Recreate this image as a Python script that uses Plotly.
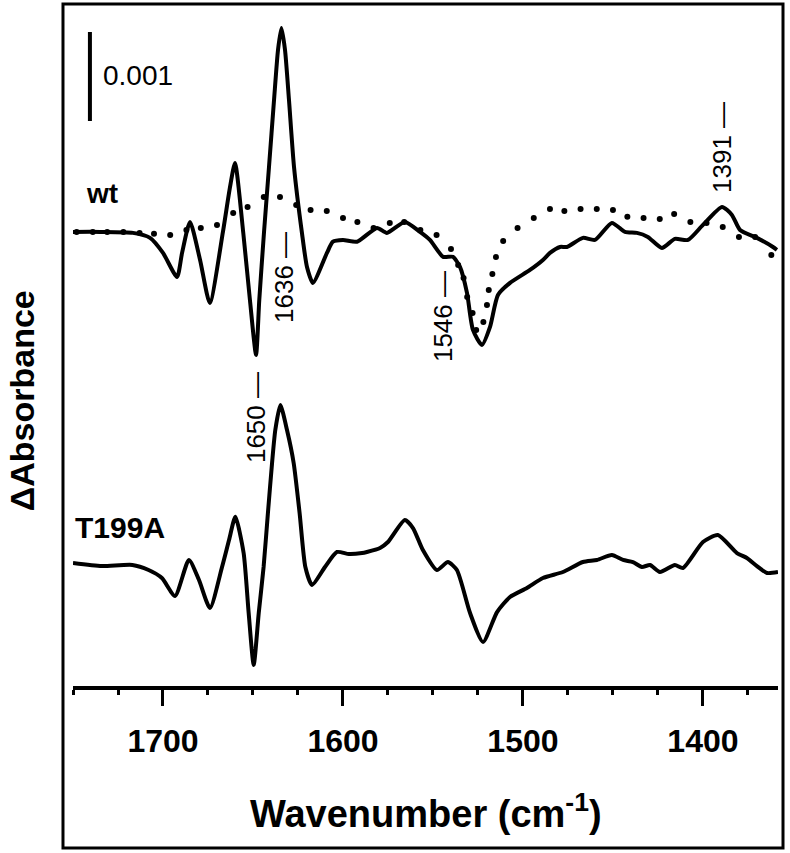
import plotly.graph_objects as go

# ---------------- data (ΔA in units of 10^-3) ----------------
wt_wn = [1750, 1735, 1716.7, 1707.2, 1700, 1692.2, 1689.4, 1685, 1679.4, 1674, 1666.7,
         1662.8, 1660, 1655.4, 1651.7, 1648.3, 1646.5, 1643.9, 1641.1, 1638.3, 1636.1,
         1634.2, 1632.2, 1630, 1627.2, 1622.8, 1620, 1616.7, 1608.9, 1605.6, 1600,
         1592.2, 1581.1, 1575.6, 1565.6, 1557.2, 1551.7, 1544.4, 1538.9, 1535, 1531.1,
         1527.8, 1522.8, 1518.3, 1513.9, 1507.2, 1496.1, 1488.9, 1485, 1479.4, 1475.6,
         1466.7, 1460, 1450.6, 1443.3, 1436.7, 1430.6, 1422.8, 1415.6, 1408.3, 1400,
         1389.4, 1383.9, 1379.4, 1370, 1361.1, 1358.9]
wt_val = [0.0, 0.0, -0.011, -0.067, -0.236, -0.506, -0.236, 0.112, -0.315, -0.798, 0.0,
          0.5, 0.775, -0.011, -0.764, -1.382, -0.764, -0.011, 0.73, 1.483, 2.045,
          2.292, 2.045, 1.483, 0.73, -0.011, -0.393, -0.573, -0.236, -0.11, -0.09,
          -0.11, 0.045, -0.011, 0.112, 0.0, -0.09, -0.28, -0.28, -0.393, -0.685,
          -1.101, -1.27, -1.067, -0.708, -0.573, -0.427, -0.315, -0.236, -0.169, -0.169,
          -0.067, -0.09, 0.101, 0.0, -0.011, -0.056, -0.18, -0.079, -0.09, 0.079,
          0.281, 0.191, 0.022, -0.067, -0.169, -0.202]

wt_dot_wn = [1748, 1739, 1731, 1722, 1713, 1705, 1696, 1687, 1679, 1670, 1661, 1653,
             1644, 1635, 1626, 1618, 1609, 1600, 1592, 1583, 1574, 1566, 1557, 1548,
             1540, 1536, 1533, 1531, 1528, 1526, 1522, 1520, 1519, 1517, 1515,
             1511, 1503, 1494, 1485, 1477, 1468, 1459, 1450, 1442, 1433, 1424, 1416,
             1407, 1398, 1389, 1380, 1371, 1362]
wt_dot_val = [0.0, 0.0, 0.0, 0.0, -0.011, -0.022, -0.034, 0.022, 0.045, 0.079, 0.213, 0.281,
              0.393, 0.393, 0.303, 0.247, 0.236, 0.157, 0.112, 0.045, 0.101, 0.112, 0.022, -0.034,
              -0.191, -0.371, -0.517, -0.730, -0.910, -1.101, -1.011, -0.820, -0.652, -0.472, -0.281,
              -0.101, 0.045, 0.157, 0.258, 0.236, 0.258, 0.258, 0.247, 0.169, 0.157, 0.146, 0.202,
              0.112, 0.101, 0.056, -0.056, -0.056, -0.258]

t199a_wn = [1750, 1734, 1717, 1708, 1700.6, 1693.3, 1685.6, 1680, 1673.9, 1667.2, 1663.3,
            1659.8, 1655.2, 1652.4, 1649.6, 1646.8, 1644.1, 1641.7, 1639.4, 1637.6, 1634.8,
            1631.1, 1627.4, 1624.1, 1620.9, 1617.2, 1610, 1603.3, 1596.7, 1589.4, 1586.7,
            1579.4, 1575, 1565.6, 1561.1, 1555.6, 1547.8, 1541.7, 1536.7, 1529.4, 1522.2,
            1514.4, 1507.2, 1497.8, 1488.9, 1477.8, 1466.7, 1458.9, 1450.6, 1444.4, 1438.9,
            1433.9, 1429.4, 1423.9, 1415.6, 1411.1, 1400, 1391.7, 1381.1, 1375.6, 1370,
            1364.4, 1358.3]
t199a_val = [0.0, -0.034, -0.022, -0.079, -0.169, -0.371, 0.034, -0.191, -0.506, -0.045, 0.258,
             0.52, 0.112, -0.562, -1.146, -0.562, -0.045, 0.562, 1.124, 1.494, 1.775,
             1.494, 1.124, 0.562, -0.045, -0.247, -0.045, 0.124, 0.101, 0.112, 0.124,
             0.169, 0.236, 0.483, 0.393, 0.146, -0.079, 0.011, -0.079, -0.562, -0.888,
             -0.551, -0.382, -0.281, -0.169, -0.101, 0.011, 0.034, 0.090, 0.034, 0.011,
             -0.045, -0.022, -0.101, -0.022, -0.056, 0.236, 0.315, 0.112, 0.056, -0.034,
             -0.112, -0.101]

wt_offset = 3.72           # vertical offset of the wt trace (units of 10^-3)
scale_bar = 1.0            # 0.001 absorbance
x_range = [1750, 1358.3]
y_range = [-1.382, 6.292]
major_ticks = [1700, 1600, 1500, 1400]

peak_labels = [("1636 —", 1632.8, 3.213), ("1650 —", 1648.3, 1.629),
               ("1546 —", 1544.4, 2.764), ("1391 —", 1389.4, 4.663)]

FONT = "Liberation Sans, Arial, sans-serif"

fig = go.Figure()
fig.add_trace(go.Scatter(x=wt_dot_wn, y=[v + wt_offset for v in wt_dot_val], mode="markers",
                         marker=dict(color="black", size=6, symbol="circle", line=dict(width=0)),
                         showlegend=False, hoverinfo="skip"))
fig.add_trace(go.Scatter(x=wt_wn, y=[v + wt_offset for v in wt_val], mode="lines",
                         line=dict(color="black", width=4, shape="spline", smoothing=0.6),
                         showlegend=False))
fig.add_trace(go.Scatter(x=t199a_wn, y=t199a_val, mode="lines",
                         line=dict(color="black", width=4, shape="spline", smoothing=0.6),
                         showlegend=False))

# scale bar
fig.add_shape(type="line", xref="x", yref="y", x0=1740.6, x1=1740.6,
              y0=4.966, y1=4.966 + scale_bar, line=dict(color="black", width=4))
fig.add_annotation(x=1713.9, y=5.483, text="0.001", showarrow=False,
                   font=dict(family=FONT, size=28, color="black"))
fig.add_annotation(x=1733.9, y=4.157, text="wt", showarrow=False,
                   font=dict(family=FONT, size=28, color="black", weight="bold"))
fig.add_annotation(x=1723.9, y=0.404, text="T199A", showarrow=False,
                   font=dict(family=FONT, size=30, color="black", weight="bold"))
for txt, xx, yy in peak_labels:
    fig.add_annotation(x=xx, y=yy, text=txt, textangle=-90, showarrow=False,
                       font=dict(family=FONT, size=26, color="black"))

# outer frame
fig.add_shape(type="rect", xref="paper", yref="paper", x0=-0.0142, x1=1.0071,
              y0=-0.2372, y1=0.9985, line=dict(color="black", width=3))

fig.add_annotation(xref="paper", yref="paper", x=0.5, y=-0.183,
                   text="Wavenumber (cm<sup>-1</sup>)", showarrow=False, yanchor="middle",
                   font=dict(family=FONT, size=38, color="black", weight="bold"))
fig.add_annotation(xref="paper", yref="paper", x=-0.0723, y=0.417, text="ΔAbsorbance",
                   textangle=-90, showarrow=False, xanchor="center", yanchor="middle",
                   font=dict(family=FONT, size=34, color="black", weight="bold"))

fig.update_xaxes(range=x_range, showline=True, linecolor="black", linewidth=4,
                 tickmode="array", tickvals=major_ticks, ticks="outside", ticklen=16,
                 tickwidth=3, tickcolor="black", showgrid=False, zeroline=False,
                 tickfont=dict(family=FONT, size=32, color="black", weight="bold"),
                 ticklabelstandoff=8,
                 minor=dict(dtick=25, tick0=1750, ticks="outside", ticklen=5, tickwidth=3,
                            tickcolor="black", showgrid=False))
fig.update_yaxes(range=y_range, visible=False)

fig.update_layout(width=790, height=853, margin=dict(l=73, r=12, t=3, b=167),
                  plot_bgcolor="white", paper_bgcolor="white", showlegend=False)

fig.write_html("out.html", config={"displayModeBar": False},
               post_script="document.body.style.margin='0px';document.body.style.overflow='hidden';")
